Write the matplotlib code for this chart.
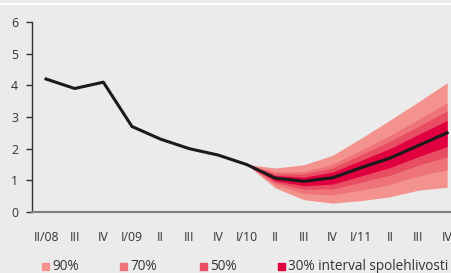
import matplotlib
matplotlib.use("Agg")
import matplotlib.pyplot as plt
from matplotlib.patches import Rectangle

labels = ["II/08", "III", "IV", "I/09", "II", "III", "IV", "I/10", "II", "III", "IV", "I/11", "II", "III", "IV"]
center = [4.2, 3.9, 4.1, 2.7, 2.3, 2.0, 1.8, 1.5, 1.07, 0.97, 1.08, 1.4, 1.7, 2.1, 2.5]

# fan chart bands, from I/10 onwards
fan_start = 7
lo90 = [1.5, 0.76, 0.39, 0.28, 0.36, 0.48, 0.69, 0.78]
lo70 = [1.5, 0.86, 0.58, 0.54, 0.69, 0.87, 1.14, 1.33]
lo50 = [1.5, 0.93, 0.72, 0.73, 0.94, 1.16, 1.48, 1.74]
lo30 = [1.5, 0.99, 0.83, 0.88, 1.14, 1.40, 1.75, 2.07]
hi30 = [1.5, 1.15, 1.10, 1.26, 1.63, 2.00, 2.45, 2.89]
hi50 = [1.5, 1.21, 1.20, 1.39, 1.81, 2.23, 2.71, 3.19]
hi70 = [1.5, 1.27, 1.28, 1.51, 1.96, 2.42, 2.93, 3.45]
hi90 = [1.5, 1.39, 1.49, 1.79, 2.33, 2.90, 3.48, 4.08]

legend_labels = ["90%", "70%", "50%", "30% interval spolehlivosti"]
colors = ["#f4928e", "#ef7479", "#e84d62", "#e0003f"]

plt.rcParams['font.family'] = ['Open Sans', 'DejaVu Sans']
bg = "#ebebeb"
fig = plt.figure(figsize=(4.52, 2.73), dpi=100, facecolor=bg)
# white line at top
fig.add_artist(plt.Line2D([0, 1], [1 - 3.5/273, 1 - 3.5/273], color="white", lw=1.5))

ax = fig.add_axes([32/452, (273-212)/273, (452-32)/452, 190/273])
ax.set_facecolor(bg)

fx = list(range(fan_start, fan_start + len(lo90)))
ax.fill_between(fx, lo90, hi90, color=colors[0], lw=0)
ax.fill_between(fx, lo70, hi70, color=colors[1], lw=0)
ax.fill_between(fx, lo50, hi50, color=colors[2], lw=0)
ax.fill_between(fx, lo30, hi30, color=colors[3], lw=0)

ax.plot(range(len(center)), center, color="#1a1a1a", lw=2.2, solid_joinstyle="round")

ax.set_xlim(-0.49, 14.17)
ax.set_ylim(0, 6)
ax.set_yticks(range(0, 7))
ax.set_xticks(range(len(labels)))
ax.set_xticklabels(labels)
ax.tick_params(axis='x', length=0, pad=14, labelsize=8.8, labelcolor="#333333")
ax.tick_params(axis='y', length=4, width=1, direction='out', pad=6, labelsize=8.8, labelcolor="#333333", color="#333333")
for s in ["top", "right"]:
    ax.spines[s].set_visible(False)
ax.spines["left"].set_color("#333333")
ax.spines["left"].set_linewidth(1)
ax.spines["bottom"].set_color("#808080")
ax.spines["bottom"].set_linewidth(1.5)

# legend
lx = [42, 120, 200, 278]
for x0, c, t in zip(lx, colors, legend_labels):
    fig.add_artist(Rectangle((x0/452, (273-270)/273), 7/452, 7/273, color=c, transform=fig.transFigure))
    fig.text((x0+10)/452, (273-266.5)/273, t, fontsize=9.8, color="#333333", va="center", ha="left")

fig.savefig("out.png", dpi=100, facecolor=bg)
